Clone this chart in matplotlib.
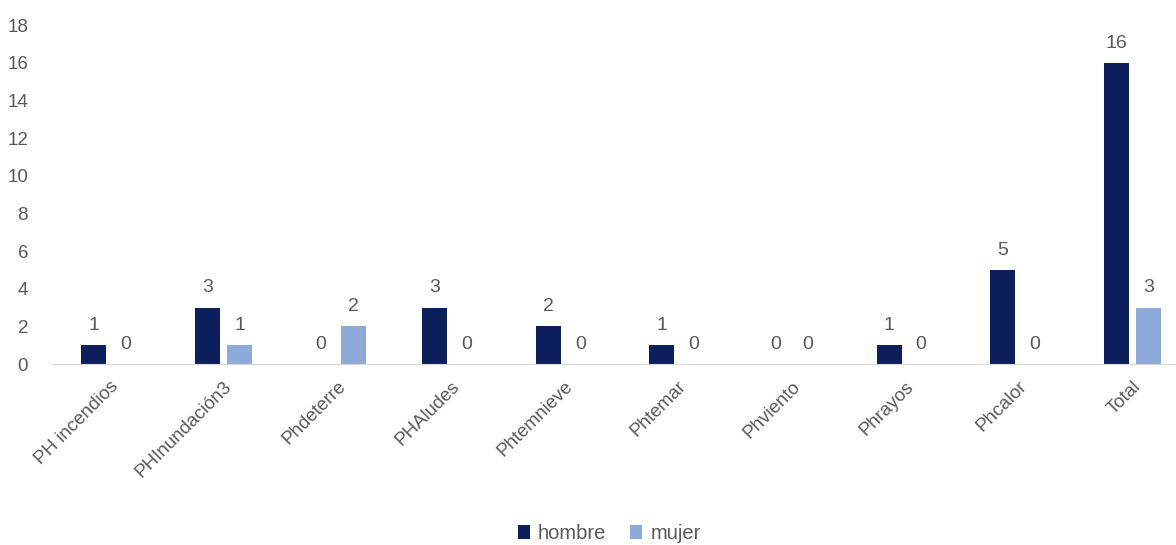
import numpy as np
import matplotlib.pyplot as plt

plt.rcParams['font.family'] = ['Liberation Sans', 'DejaVu Sans']

categories = ["PH incendios", "PHInundación3", "Phdeterre", "PHAludes", "Phtemnieve",
              "Phtemar", "Phviento", "Phrayos", "Phcalor", "Total"]
hombre = [1, 3, 0, 3, 2, 1, 0, 1, 5, 16]
mujer = [0, 1, 2, 0, 0, 0, 0, 0, 0, 3]

c_h = '#0c1f5c'
c_m = '#8eaadb'
grey = '#595959'

fig = plt.figure(figsize=(11.76, 5.45), dpi=100)
ax = fig.add_axes([0.0451, 0.332, 0.966, 0.622])

x = np.arange(len(categories))
w = 0.22
off = 0.141
b1 = ax.bar(x - off, hombre, w, color=c_h, label='hombre')
b2 = ax.bar(x + off, mujer, w, color=c_m, label='mujer')

for bars in (b1, b2):
    for r in bars:
        ax.annotate(str(int(r.get_height())), (r.get_x() + r.get_width() / 2, r.get_height()),
                    xytext=(0, 8), textcoords='offset points', ha='center', va='bottom',
                    fontsize=14, color=grey)

ax.set_xlim(-0.5, len(categories) - 0.5)
ax.set_ylim(0, 18)
ax.set_yticks(range(0, 19, 2))
ax.set_xticks(x)
ax.set_xticklabels(categories, rotation=45, ha='right', rotation_mode='anchor')
ax.tick_params(axis='y', length=0, pad=18, labelsize=13.5, labelcolor=grey)
ax.tick_params(axis='x', length=0, pad=10, labelsize=13.5, labelcolor=grey)
for s in ['top', 'right', 'left']:
    ax.spines[s].set_visible(False)
ax.spines['bottom'].set_color('#d9d9d9')

fig.legend(handles=[b1, b2], loc='lower center', bbox_to_anchor=(0.518, -0.03), ncol=2,
           frameon=False, fontsize=14.5, labelcolor=grey, handlelength=0.6, handleheight=0.7,
           handletextpad=0.4, columnspacing=1.2)

fig.savefig('out.png', dpi=100)
